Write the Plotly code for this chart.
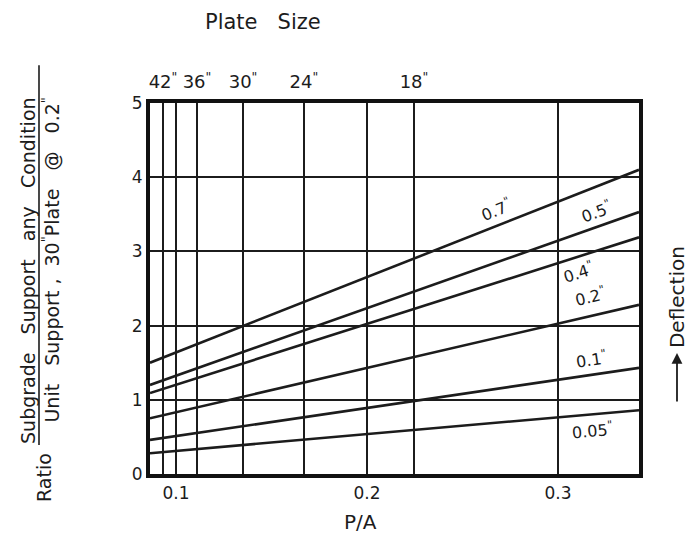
import plotly.graph_objects as go

# P/A span of the chart and the straight deflection curves (ratio at each end)
pa_span = [0.0864, 0.3424]
deflections = ['0.05"', '0.1"', '0.2"', '0.4"', '0.5"', '0.7"']
ratio_start = [0.28, 0.46, 0.75, 1.09, 1.20, 1.50]
ratio_end = [0.86, 1.43, 2.28, 3.19, 3.53, 4.10]

# curve labels: position (P/A, ratio) and tilt
label_pa = [0.3178, 0.3173, 0.3168, 0.3105, 0.3204, 0.268]
label_ratio = [0.58, 1.54, 2.39, 2.72, 3.54, 3.56]
label_angle = [-5, -8.4, -13, -17.8, -19.6, -21.6]

# plate sizes and the P/A at which each plate line sits
plate_sizes = ["42", "36", "30", "24", "18"]
plate_pa = [0.0932, 0.111, 0.1351, 0.167, 0.2246]

pa_ticks = [0.1, 0.2, 0.3]
pa_ticktext = ["0.1", "0.2", "0.3"]
ratio_ticks = [0, 1, 2, 3, 4, 5]

INK = "#1c1c1c"
FONT = "DejaVu Sans"
INCH = "<sup>&#34;</sup>"   # raised inch mark


def inch(s):
    return s.replace('"', INCH)


fig = go.Figure()

for name, y0, y1 in zip(deflections, ratio_start, ratio_end):
    fig.add_trace(go.Scatter(
        x=pa_span, y=[y0, y1], mode="lines", name=name,
        line=dict(color=INK, width=2.6), showlegend=False, hoverinfo="skip"))

# invisible trace carrying the top plate-size axis
fig.add_trace(go.Scatter(x=pa_span, y=[0, 0], xaxis="x2", mode="lines",
                         line=dict(width=0), showlegend=False, hoverinfo="skip"))

for name, x, y, a in zip(deflections, label_pa, label_ratio, label_angle):
    fig.add_annotation(x=x, y=y, text=inch(name), showarrow=False, textangle=a,
                       xanchor="center", yanchor="middle",
                       font=dict(family=FONT, size=16, color=INK))

fig.update_layout(
    width=692, height=543,
    margin=dict(l=150, r=53, t=103, b=69),
    paper_bgcolor="white", plot_bgcolor="white",
    font=dict(family=FONT, color=INK),
    xaxis=dict(range=pa_span, tickvals=pa_ticks, ticktext=pa_ticktext,
               showgrid=True, gridcolor=INK, gridwidth=2, zeroline=False,
               showline=True, mirror=True, linecolor="#111", linewidth=4,
               ticks="", ticklabelstandoff=1, tickangle=0,
               tickfont=dict(family=FONT, size=17, color=INK)),
    xaxis2=dict(range=pa_span, overlaying="x", side="top",
                tickvals=plate_pa,
                ticktext=[s + INCH for s in plate_sizes],
                showgrid=True, gridcolor=INK, gridwidth=2, zeroline=False,
                showline=False, ticks="", ticklabelstandoff=10, tickangle=0,
                tickfont=dict(family=FONT, size=18, color=INK)),
    yaxis=dict(range=[0, 5], tickvals=ratio_ticks,
               showgrid=True, gridcolor=INK, gridwidth=2, zeroline=False,
               showline=True, mirror=True, linecolor="#111", linewidth=4,
               ticks="", ticklabelstandoff=0,
               tickfont=dict(family=FONT, size=17, color=INK)),
)


def note(x, y, text, size, angle=0):
    fig.add_annotation(xref="paper", yref="paper", x=x, y=y, text=text,
                       textangle=angle, showarrow=False,
                       xanchor="center", yanchor="middle",
                       font=dict(family=FONT, size=size, color=INK))


# axis titles
note(0.43, -0.13, "P/A", 20)
note(0.231, 1.218, "Plate   Size", 21)
note(-0.2168, -0.008, "Ratio", 19, -90)
note(-0.2495, 0.55, "Subgrade   Support   any   Condition", 19, -90)
note(-0.2025, 0.578,
     "Unit   Support ,  30" + INCH + "Plate   @   0.2" + INCH, 19, -90)
fig.add_shape(type="line", xref="paper", yref="paper",
              x0=-0.227, x1=-0.227, y0=0.078, y1=1.102,
              line=dict(color=INK, width=1.6))

# deflection direction marker on the right
note(1.0777, 0.477, "Deflection", 20, -90)
fig.add_annotation(xref="paper", yref="paper", x=1.0777, y=0.326, text="",
                   showarrow=True, ax=0, ay=50, arrowhead=2, arrowsize=1.2,
                   arrowwidth=1.8, arrowcolor=INK)

fig.write_html("out.html")
